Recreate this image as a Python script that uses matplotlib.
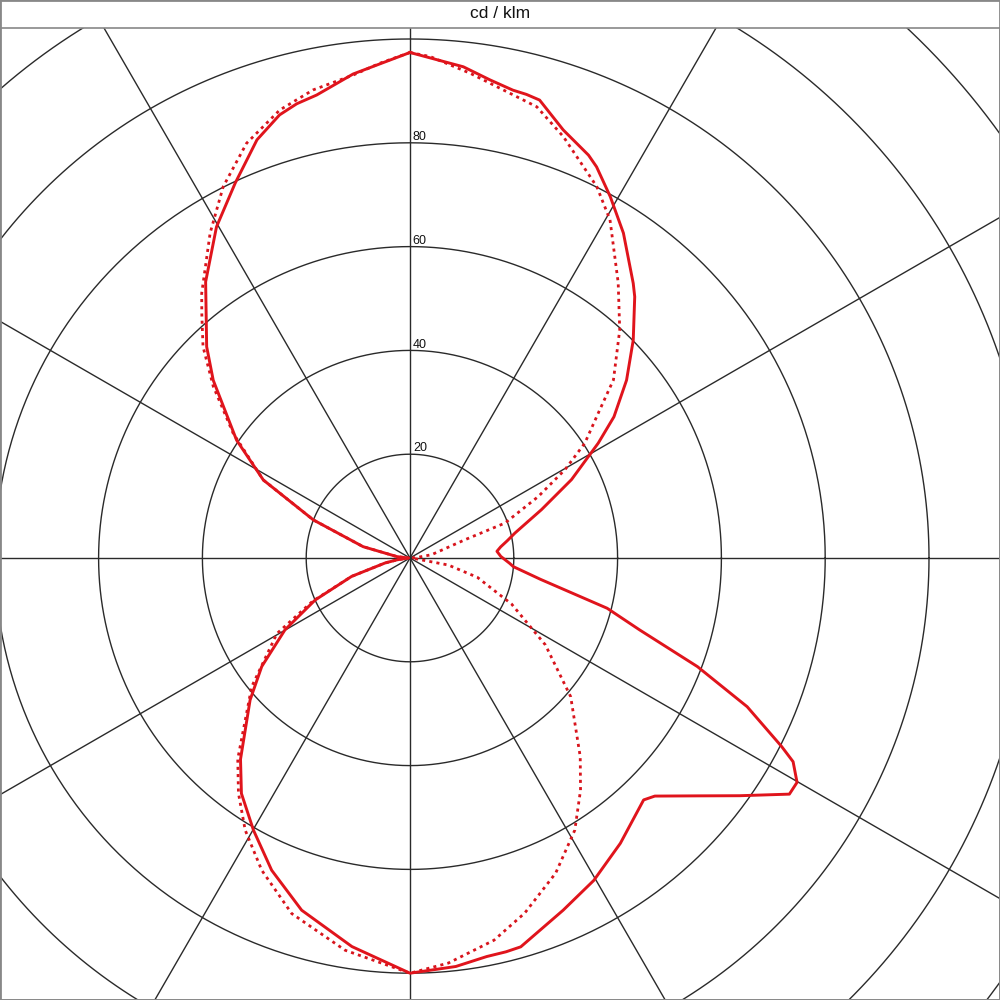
import numpy as np
from matplotlib import pyplot as plt

# luminous intensity, cd/klm ; gamma in degrees from nadir, negative = left half (C180)
solid_gamma = [-180, -173.3, -168.6, -166.0, -163.6, -159.9, -155.0, -149.7, -143.5, -136.1,
               -132.1, -124.2, -118.0, -111.5, -103.6, -96, -90, -82, -78.7, -72.5,
               -66.1, -60.1, -53.8, -48.4, -40.1, -35.6, -29.9, -23.9, -17.1, -8.5,
               0, 6.4, 10.9, 13.7, 15.9, 23.5, 29.7, 36.4, 44.0, 45.8,
               50.4, 54.2, 58.1, 59.9, 62.0, 63.1, 66.2, 69.3, 72.6, 75.7,
               80.7, 85.2, 87.0, 91.0, 94.4, 97.0, 100.0, 103.4, 110.2, 115.9,
               121.4, 124.7, 129.4, 134.3, 139.3, 140.9, 146.7, 151.0, 154.5, 156.1,
               160.3, 164.2, 165.9, 167.6, 170.5, 173.8, 180]
solid_cd = [97.4, 93.9, 91.0, 90.2, 89.0, 85.8, 79.7, 73.9, 66.2, 56.5,
            51.1, 40.4, 32.0, 20.0, 9.3, 2.5, 0.3, 2.5, 4.9, 11.8,
            20.0, 27.8, 35.4, 41.2, 50.7, 55.8, 60.5, 65.8, 71.0, 75.7,
            80.0, 79.2, 78.2, 78.1, 77.9, 74.0, 71.5, 68.3, 64.8, 65.8,
            71.9, 78.3, 86.1, 86.2, 83.6, 80.3, 71.0, 59.2, 46.4, 39.2,
            25.5, 20.0, 19.2, 17.5, 16.8, 17.6, 19.0, 20.8, 27.0, 34.6,
            42.5, 47.8, 54.0, 60.1, 66.4, 68.2, 74.9, 79.6, 83.5, 84.9,
            87.6, 91.7, 92.1, 92.3, 93.4, 95.2, 97.4]

dotted_gamma = [-180, -176.5, -173.3, -168.3, -163.8, -158.5, -153.3, -148.4, -141.8, -139.6,
                -135.6, -131.1, -125.2, -118.0, -111.5, -103.6, -96, -90, -82, -78.7,
                -72.5, -66.1, -60.4, -50.9, -40.6, -36.1, -31.2, -25.4, -18.4, -9.4,
                0, 5.4, 12.4, 17.9, 24.8, 31.2, 36.3, 40.6, 49.2, 57.3,
                65.6, 74.0, 79.6, 90, 95, 98.7, 108.4, 110.2, 115.6, 119.7,
                123.3, 127.6, 131.2, 137.4, 142.9, 149.4, 153.3, 160.0, 164.3, 167.4,
                172.9, 177.7, 180]
dotted_cd = [97.4, 95.5, 93.7, 92.1, 89.9, 85.9, 80.1, 73.5, 64.9, 61.9,
             57.0, 50.3, 41.7, 32.0, 20.0, 9.3, 2.5, 0.3, 2.5, 4.9,
             11.8, 20.5, 29.5, 39.3, 51.0, 56.1, 61.3, 66.6, 72.2, 76.6,
             80.0, 78.4, 75.4, 71.9, 66.9, 61.3, 55.5, 50.4, 40.9, 31.0,
             21.5, 13.5, 7.5, 0.3, 1.5, 4.2, 11.2, 19.5, 27.4, 34.4,
             40.3, 45.8, 52.1, 59.7, 66.5, 75.7, 80.1, 86.4, 90.3, 91.4,
             94.1, 96.7, 97.4]

ring_values = [20, 40, 60, 80, 100, 120, 140, 160]
ring_labels = ["20", "40", "60", "80"]


def to_xy(gamma, cd):
    g = np.radians(np.array(gamma, dtype=float))
    r = np.array(cd, dtype=float)
    return r * np.sin(g), -r * np.cos(g)


fig = plt.figure(figsize=(10, 10), dpi=100)
ax = fig.add_axes([0, 0, 1, 0.972])

# polar grid
t = np.linspace(0, 2 * np.pi, 721)
for rv in ring_values:
    ax.plot(rv * np.cos(t), rv * np.sin(t), color="#2a2a2a", lw=1.0, zorder=1)
for a in range(0, 180, 30):
    ar = np.radians(a)
    ax.plot([-300 * np.sin(ar), 300 * np.sin(ar)], [-300 * np.cos(ar), 300 * np.cos(ar)],
            color="#2a2a2a", lw=1.0, zorder=1)
for rv, lab in zip(ring_values, ring_labels):
    ax.text(0.55, rv + 0.55, lab, fontsize=9, family="Liberation Sans",
            ha="left", va="baseline", color="#111111", zorder=2)

x, y = to_xy(dotted_gamma, dotted_cd)
ax.plot(x, y, color="#d8141c", lw=2.0, linestyle=(0, (1.1, 1.5)), zorder=3)
x, y = to_xy(solid_gamma, solid_cd)
ax.plot(x, y, color="#e0141c", lw=2.1, zorder=4)

ax.set_xlim(-410 / 5.19, 590 / 5.19)
ax.set_ylim(-442 / 5.19, 530 / 5.19)
ax.set_xticks([])
ax.set_yticks([])
for sp in ax.spines.values():
    sp.set_color("#888888")
    sp.set_linewidth(1.2)

fig.text(0.5, 0.986, "cd / klm", ha="center", va="center", fontsize=12.5,
         family="Liberation Sans", color="#111111")
fig.patches.append(plt.Rectangle((0, 0), 1, 1, transform=fig.transFigure, fill=False,
                                 edgecolor="#888888", lw=2.0))

plt.savefig("out.png", dpi=100)
